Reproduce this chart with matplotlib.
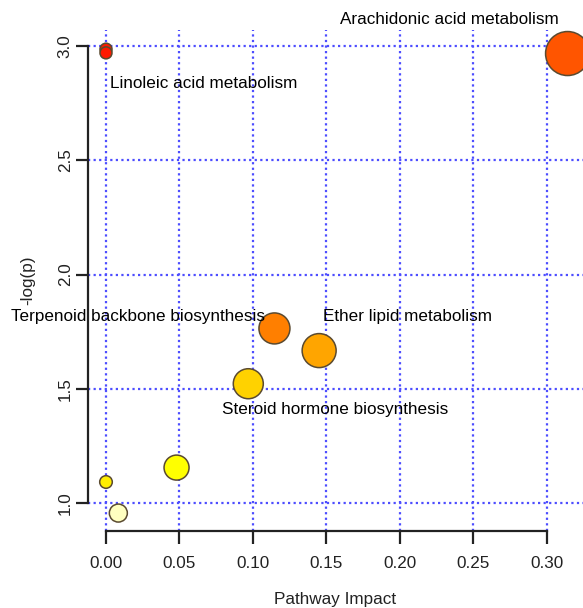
import matplotlib
matplotlib.use("Agg")
import matplotlib.pyplot as plt

plt.rcParams['font.family'] = ['Liberation Sans', 'DejaVu Sans']

# ---- data ----
impact = [0.0, 0.0, 0.314, 0.1146, 0.145, 0.0968, 0.048, 0.0, 0.0084]
neglogp = [2.986, 2.970, 2.967, 1.764, 1.667, 1.522, 1.155, 1.092, 0.956]
bubble_r = [6, 6, 22, 15.5, 17, 15, 12.5, 6.3, 9]  # bubble radius (px)
colors = ['#FF1A00', '#FF1A00', '#FF5500', '#FF7F00', '#FFA500', '#FFD200',
          '#FFFF00', '#FFEE00', '#FFFFC0']

label_names = ['Arachidonic acid metabolism', 'Linoleic acid metabolism',
               'Terpenoid backbone biosynthesis', 'Ether lipid metabolism',
               'Steroid hormone biosynthesis']
label_x = [0.2333, 0.0667, 0.0218, 0.2051, 0.1556]
label_y = [3.114, 2.838, 1.816, 1.816, 1.408]

xticks = [0.0, 0.05, 0.10, 0.15, 0.20, 0.25, 0.30]
xtick_labels = ['0.00', '0.05', '0.10', '0.15', '0.20', '0.25', '0.30']
yticks = [1.0, 1.5, 2.0, 2.5, 3.0]
ytick_labels = ['1.0', '1.5', '2.0', '2.5', '3.0']

# ---- figure ----
W, H = 583, 608
dpi = 100
fig = plt.figure(figsize=(W / dpi, H / dpi), dpi=dpi)
L, R, T, B = 88, 583, 30, 531
ax = fig.add_axes([L / W, (H - B) / H, (R - L) / W, (B - T) / H])
ax.set_xlim(-0.01224, 0.3245)
ax.set_ylim(0.8775, 3.07)

ax.set_xticks(xticks)
ax.set_xticklabels(xtick_labels)
ax.set_yticks(yticks)
ax.set_yticklabels(ytick_labels, rotation=90, va='center')

grid_color = '#4D4DFF'
for xv in xticks:
    ax.axvline(xv, color=grid_color, lw=1.6, ls=(0, (1, 1.5)), zorder=1)
for yv in yticks:
    ax.axhline(yv, color=grid_color, lw=1.6, ls=(0, (1, 1.5)), zorder=1)

sizes = [(2 * r * 72 / dpi) ** 2 for r in bubble_r]
ax.scatter(impact, neglogp, s=sizes, c=colors, edgecolors='#5A4A30',
           linewidths=1.1, zorder=3, clip_on=False)

for name, lx, ly in zip(label_names, label_x, label_y):
    ax.text(lx, ly, name, ha='center', va='center', fontsize=12.3,
            color='black', clip_on=False, zorder=4)

for s in ['top', 'right']:
    ax.spines[s].set_visible(False)
ax.spines['left'].set_bounds(1.0, 3.0)
ax.spines['bottom'].set_bounds(0.0, 0.30)
for s in ['left', 'bottom']:
    ax.spines[s].set_linewidth(1.6)
    ax.spines[s].set_color('#222222')

ax.tick_params(axis='both', direction='out', length=9, width=1.6,
               color='#222222', labelsize=12.3, labelcolor='#222222')
ax.tick_params(axis='x', pad=9)
ax.tick_params(axis='y', pad=2)

ax.set_xlabel('Pathway Impact', fontsize=12.3, color='#222222', labelpad=15)
ax.set_ylabel('-log(p)', fontsize=12.3, color='#222222', labelpad=16)

fig.savefig('out.png', dpi=dpi)
